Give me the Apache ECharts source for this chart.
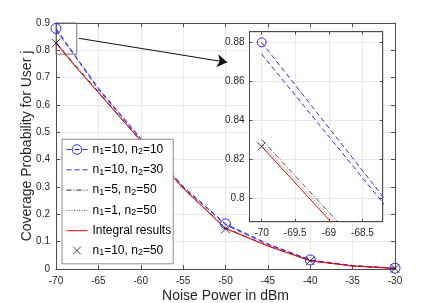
<!DOCTYPE html>
<html><head><meta charset="utf-8">
<script src="https://cdn.jsdelivr.net/npm/echarts@6/dist/echarts.min.js"></script>
<style>html,body{margin:0;padding:0;background:#fff}#c{width:436px;height:303px}</style>
</head><body><div id="c"></div>
<script>
// ---- data ----
const noisePower = [-70, -68, -65, -60, -55, -50, -45, -40, -35, -30];
const n10n10   = [0.880, 0.792, 0.662, 0.478, 0.302, 0.165, 0.092, 0.033, 0.013, 0.003];
const n10n30   = [0.874, 0.789, 0.657, 0.475, 0.299, 0.162, 0.090, 0.032, 0.012, 0.003];
const n5n50    = [0.830, 0.755, 0.649, 0.470, 0.297, 0.151, 0.085, 0.030, 0.011, 0.002];
const n1n50    = [0.828, 0.753, 0.647, 0.469, 0.296, 0.149, 0.085, 0.030, 0.011, 0.002];
const integral = [0.8265, 0.751, 0.645, 0.468, 0.295, 0.148, 0.084, 0.030, 0.011, 0.002];
const markerX  = [-70, -50, -40, -30];
const n10n50X  = [-70, -50, -40, -30];
const n10n50   = [0.8265, 0.147, 0.030, 0.002];
const names = ['n1=10, n2=10', 'n1=10, n2=30', 'n1=5, n2=50', 'n1=1, n2=50', 'Integral results', 'n1=10, n2=50'];
const richNames = {
  'n1=10, n2=10': '{t|n}{s|1}{t|=10, n}{s|2}{t|=10}',
  'n1=10, n2=30': '{t|n}{s|1}{t|=10, n}{s|2}{t|=30}',
  'n1=5, n2=50': '{t|n}{s|1}{t|=5, n}{s|2}{t|=50}',
  'n1=1, n2=50': '{t|n}{s|1}{t|=1, n}{s|2}{t|=50}',
  'Integral results': '{t|Integral results}',
  'n1=10, n2=50': '{t|n}{s|1}{t|=10, n}{s|2}{t|=50}'
};
// main plot zoom box and arrow annotation (data coordinates)
const zoomBox = [[-70, 0.9], [-67.55, 0.786]];
const arrowPts = [[-67.3, 0.844], [-49.8, 0.756]];
// inset ranges
const insetX = [-70.18, -68.2];
const insetY = [0.7877, 0.8855];

const FONT = 'Liberation Sans, Arial, Helvetica, sans-serif';
const AX = '#4d4d4d';
const GRIDC = '#e8e8e8';
const BLUE = '#2a2aff';
const CROSS = 'path://M-3,-3M13,13M0,0L10,10M10,0L0,10';
const CLEAR = 'rgba(0,0,0,0)';

function pairs(xs, ys, markerSet) {
  return xs.map((x, i) => {
    if (!markerSet) return [x, ys[i]];
    return markerSet.includes(x) ? { value: [x, ys[i]] } : { value: [x, ys[i]], symbol: 'none' };
  });
}
function makeSeries(g) {
  const xi = g === 0 ? 0 : 2, yi = g === 0 ? 0 : 2;
  const base = { xAxisIndex: xi, yAxisIndex: yi, animation: false, clip: g !== 0, z: g === 0 ? 2 : 6, emphasis: { disabled: true } };
  const s = [
    Object.assign({}, base, { name: names[0], type: 'line', symbol: 'circle', symbolSize: g === 0 ? 10 : 9, showAllSymbol: true, data: pairs(noisePower, n10n10, markerX),
      lineStyle: { color: BLUE, width: 1, type: [5, 3] }, itemStyle: { color: CLEAR, borderColor: BLUE, borderWidth: 1 } }),
    Object.assign({}, base, { name: names[1], type: 'line', symbol: 'none', data: pairs(noisePower, n10n30), lineStyle: { color: BLUE, width: 1, type: [5, 3] }, itemStyle: { color: BLUE } }),
    Object.assign({}, base, { name: names[2], type: 'line', symbol: 'none', data: pairs(noisePower, n5n50), lineStyle: { color: '#222', width: 0.8, type: [5, 2, 1, 2] }, itemStyle: { color: '#222' } }),
    Object.assign({}, base, { name: names[3], type: 'line', symbol: 'none', data: pairs(noisePower, n1n50), lineStyle: { color: '#555', width: 0.8, type: [1, 1.5] }, itemStyle: { color: '#555' } }),
    Object.assign({}, base, { name: names[4], type: 'line', symbol: 'none', data: pairs(noisePower, integral), lineStyle: { color: '#ff0000', width: 1 }, itemStyle: { color: '#ff0000' } }),
    Object.assign({}, base, { name: names[5], type: 'scatter', symbol: CROSS, symbolSize: g === 0 ? 14 : 13, data: pairs(n10n50X, n10n50),
      itemStyle: { color: CLEAR, borderColor: '#111', borderWidth: 1 }, z: g === 0 ? 4 : 8 })
  ];
  if (g === 0) {
    s[4].markLine = { silent: true, animation: false, symbol: ['none', 'arrow'], symbolSize: 10, label: { show: false },
      lineStyle: { color: '#111', width: 1, type: 'solid' }, emphasis: { disabled: true }, data: [[{ coord: arrowPts[0] }, { coord: arrowPts[1] }]] };
    s[4].markArea = { silent: true, animation: false, label: { show: false }, itemStyle: { color: CLEAR, borderColor: '#777', borderWidth: 1 },
      emphasis: { disabled: true }, data: [[{ coord: zoomBox[0] }, { coord: zoomBox[1] }]] };
  }
  return s;
}
const tickLabel = { fontFamily: FONT, fontSize: 10, color: '#262626' };
const noSym = { color: CLEAR, borderColor: CLEAR, borderWidth: 0 };
function ax(extra) { return Object.assign({ type: 'value',
  axisLine: { show: true, onZero: false, lineStyle: { color: AX } },
  axisTick: { show: true, inside: true, length: 4, lineStyle: { color: AX } },
  axisLabel: { show: false }, splitLine: { show: false } }, extra); }
const option = {
  animation: false, backgroundColor: '#fff',
  grid: [
    { left: 56, top: 23, width: 339, height: 246, show: false, outerBoundsMode: 'none', containLabel: false },
    { left: 249.5, top: 31.7, width: 133.2, height: 190, show: true, backgroundColor: '#fff', borderColor: AX, borderWidth: 1, z: 3, outerBoundsMode: 'none', containLabel: false }
  ],
  xAxis: [
    ax({ gridIndex: 0, min: -70, max: -30, interval: 5, position: 'bottom', name: 'Noise Power in dBm', nameLocation: 'middle', nameGap: 20, nameMoveOverlap: false,
      nameTextStyle: { fontFamily: FONT, fontSize: 14, color: '#262626' }, axisLabel: Object.assign({ margin: 7 }, tickLabel),
      splitLine: { show: true, lineStyle: { color: GRIDC, width: 1 } } }),
    ax({ gridIndex: 0, min: -70, max: -30, interval: 5, position: 'top' }),
    ax({ gridIndex: 1, min: insetX[0], max: insetX[1], splitNumber: 4, position: 'bottom', z: 4, axisTick: { show: true, inside: true, length: 3, lineStyle: { color: AX } },
      axisLabel: Object.assign({ margin: 7, showMinLabel: false, showMaxLabel: false }, tickLabel), splitLine: { show: true, lineStyle: { color: GRIDC, width: 1 } } }),
    ax({ gridIndex: 1, min: insetX[0], max: insetX[1], splitNumber: 4, position: 'top', z: 4, axisTick: { show: true, inside: true, length: 3, lineStyle: { color: AX } } })
  ],
  yAxis: [
    ax({ gridIndex: 0, min: 0, max: 0.9, interval: 0.1, position: 'left', name: 'Coverage Probability for User j', nameLocation: 'middle', nameGap: 22, nameMoveOverlap: false,
      nameTextStyle: { fontFamily: FONT, fontSize: 14, color: '#262626' }, axisLabel: Object.assign({ margin: 6 }, tickLabel),
      splitLine: { show: true, lineStyle: { color: GRIDC, width: 1 } } }),
    ax({ gridIndex: 0, min: 0, max: 0.9, interval: 0.1, position: 'right' }),
    ax({ gridIndex: 1, min: insetY[0], max: insetY[1], splitNumber: 5, position: 'left', z: 4, axisTick: { show: true, inside: true, length: 3, lineStyle: { color: AX } },
      axisLabel: Object.assign({ margin: 5, showMinLabel: false, showMaxLabel: false }, tickLabel), splitLine: { show: true, lineStyle: { color: GRIDC, width: 1 } } }),
    ax({ gridIndex: 1, min: insetY[0], max: insetY[1], splitNumber: 5, position: 'right', z: 4, axisTick: { show: true, inside: true, length: 3, lineStyle: { color: AX } } })
  ],
  legend: {
    data: [
      { name: names[0], itemStyle: { color: CLEAR, borderColor: BLUE, borderWidth: 1 } },
      { name: names[1], itemStyle: noSym }, { name: names[2], itemStyle: noSym }, { name: names[3], itemStyle: noSym }, { name: names[4], itemStyle: noSym },
      { name: names[5], itemStyle: { color: CLEAR, borderColor: '#111', borderWidth: 1 } }
    ],
    orient: 'vertical', left: 62, top: 139.3, padding: [4.2, 2, 6.3, 4], itemGap: 7.3, itemWidth: 21, itemHeight: 12, lineStyle: { width: 1 },
    backgroundColor: '#fff', borderColor: '#8c8c8c', borderWidth: 1, z: 10,
    formatter: n => richNames[n],
    textStyle: { fontFamily: FONT, fontSize: 12, color: '#000',
      rich: { t: { fontFamily: FONT, fontSize: 12, color: '#000', lineHeight: 14, verticalAlign: 'middle' },
              s: { fontFamily: FONT, fontSize: 9, color: '#000', lineHeight: 7, verticalAlign: 'bottom' } } }
  },
  series: [].concat(makeSeries(0), makeSeries(1))
};
const chart = echarts.init(document.getElementById('c'), null, { renderer: 'canvas' });
chart.setOption(option);
</script>
</body></html>
